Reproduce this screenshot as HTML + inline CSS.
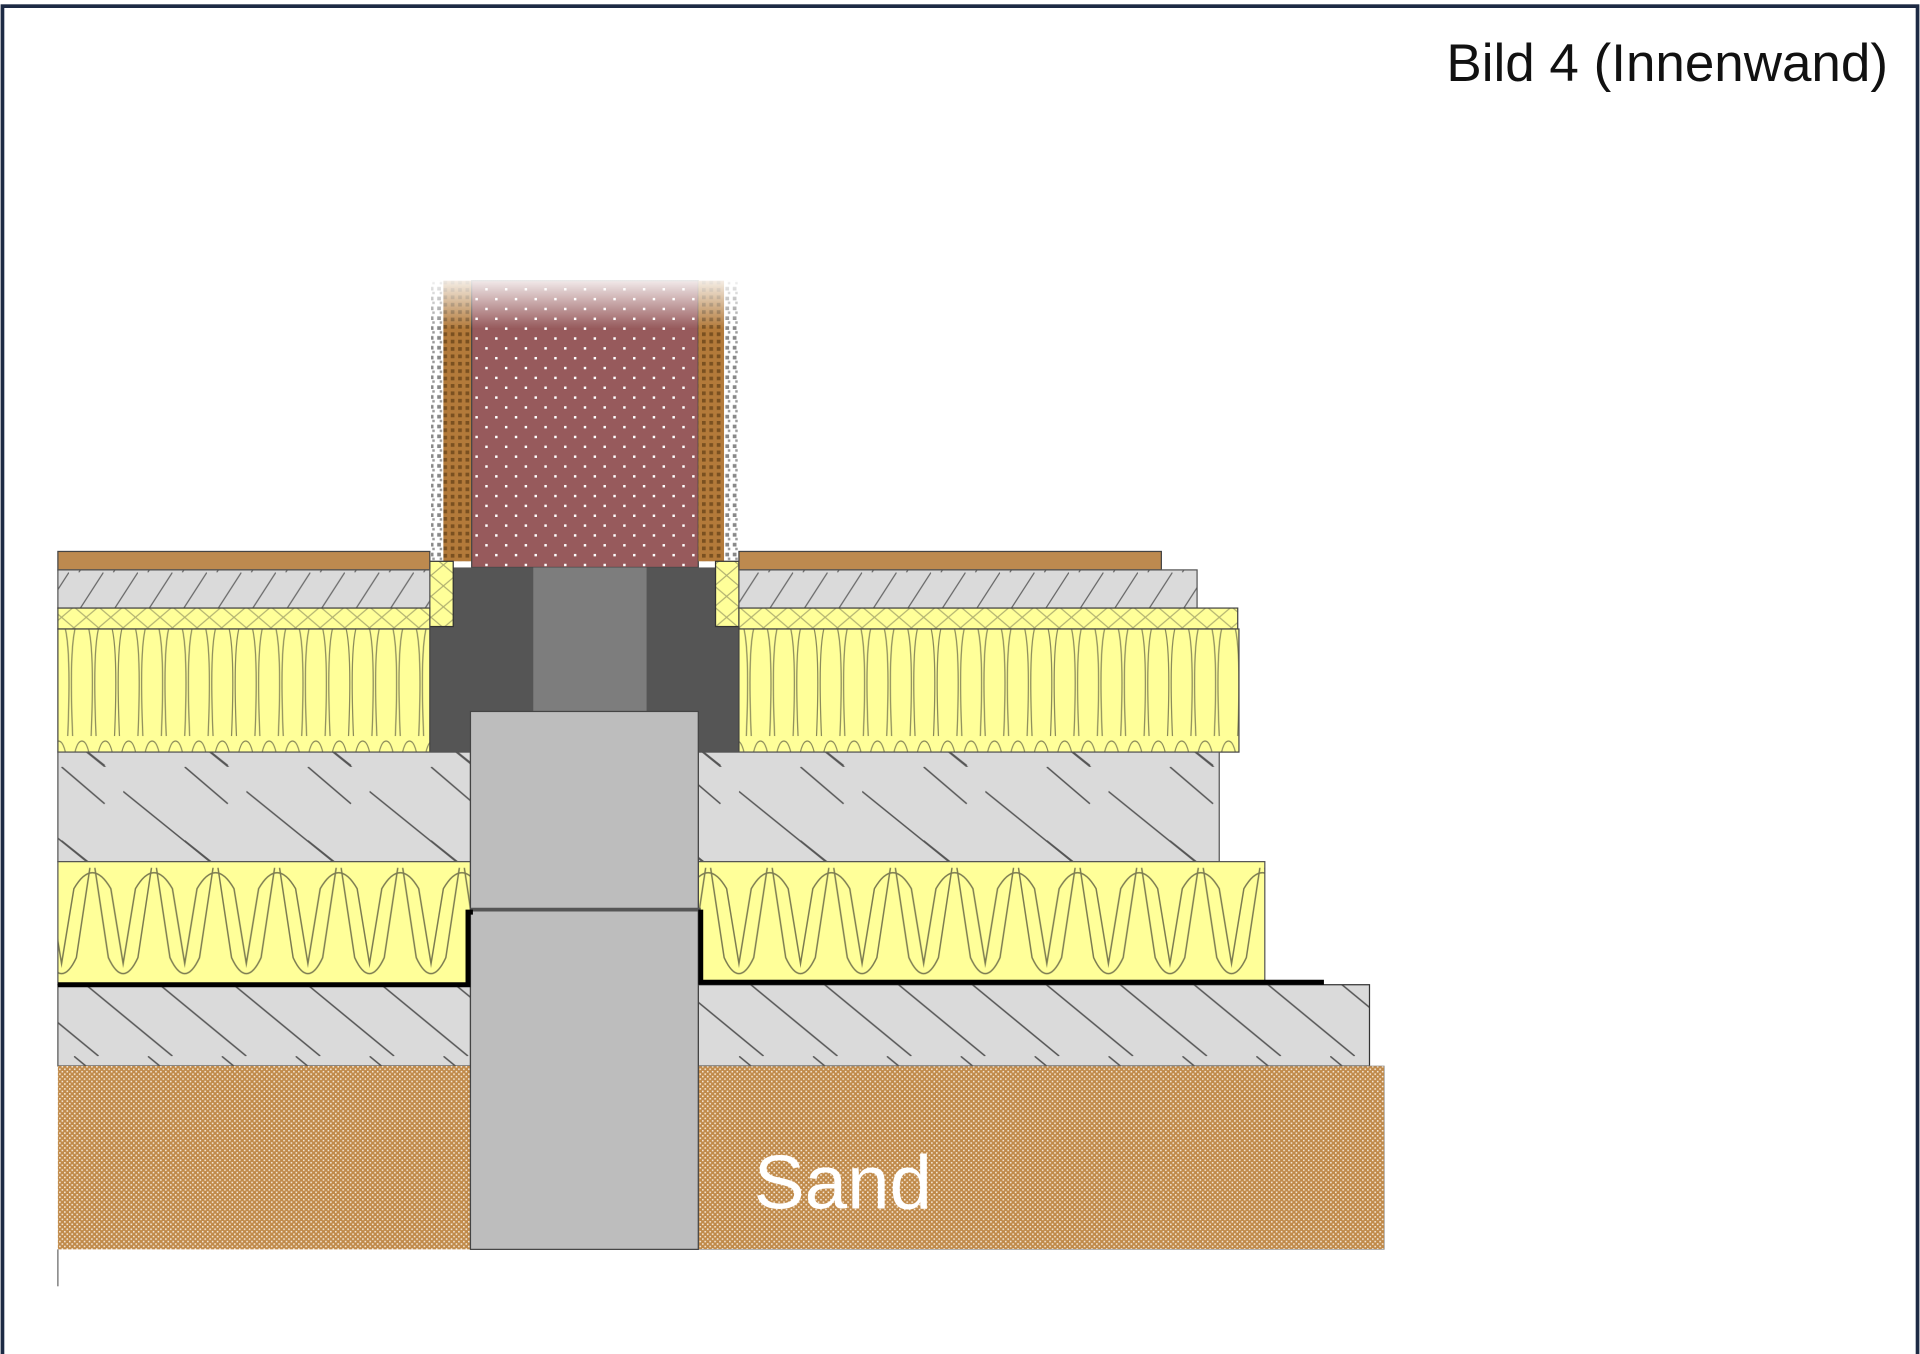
<!DOCTYPE html>
<html><head><meta charset="utf-8"><style>
html,body{margin:0;padding:0;background:#fff;}
svg{display:block;}
</style></head><body>
<svg width="1920" height="1354" viewBox="0 0 1559 1100" preserveAspectRatio="none" xmlns="http://www.w3.org/2000/svg">
<defs>
<pattern id="sand" width="4" height="4" patternUnits="userSpaceOnUse">
<rect width="4" height="4" fill="#c08a4a"/><rect x="0" y="0" width="1.3" height="1.3" fill="#f4e6d4"/><rect x="2" y="2" width="1.3" height="1.3" fill="#f4e6d4"/>
</pattern>
<pattern id="brick" width="16" height="16" patternUnits="userSpaceOnUse">
<rect width="16" height="16" fill="#975a5c"/><rect x="2" y="2" width="2" height="2" fill="#fff"/><rect x="10" y="10" width="2" height="2" fill="#fff"/>
</pattern>
<pattern id="wood" width="6" height="6" patternUnits="userSpaceOnUse">
<rect width="6" height="6" fill="#b37a3a"/><rect x="0" y="0" width="3" height="3" fill="#7a5020"/>
</pattern>
<pattern id="plaster" width="6" height="8" patternUnits="userSpaceOnUse">
<rect width="6" height="8" fill="#fff"/><rect x="1" y="1" width="3" height="3" fill="#888"/><rect x="3" y="5" width="2" height="2" fill="#999"/>
</pattern>
<pattern id="hatchS" width="28" height="31" patternUnits="userSpaceOnUse">
<rect width="28" height="31" fill="#dadada"/><line x1="28" y1="0" x2="8" y2="31" stroke="#666" stroke-width="1"/>
</pattern>
<pattern id="hatchC" width="100" height="89" patternUnits="userSpaceOnUse">
<rect width="100" height="89" fill="#dadada"/>
<line x1="0" y1="20" x2="110" y2="109" stroke="#555" stroke-width="1.2"/>
<line x1="50" y1="0" x2="85" y2="30" stroke="#555" stroke-width="1.2"/>
<line x1="50" y1="60" x2="85" y2="88" stroke="#555" stroke-width="1.2"/>
<line x1="-100" y1="20" x2="10" y2="109" stroke="#555" stroke-width="1.2"/>
</pattern>
<pattern id="hatchL" width="60" height="66" patternUnits="userSpaceOnUse">
<rect width="60" height="66" fill="#dadada"/>
<line x1="0" y1="0" x2="80" y2="66" stroke="#555" stroke-width="1.2"/>
<line x1="-60" y1="0" x2="20" y2="66" stroke="#555" stroke-width="1.2"/>
</pattern>
<pattern id="ins1" width="19" height="100" patternUnits="userSpaceOnUse">
<rect width="19" height="100" fill="#ffff99"/>
<path d="M2 98 Q-2 2 9.5 2 Q21 2 17 98" fill="none" stroke="#8a8a5a" stroke-width="1"/>
</pattern>
<pattern id="ins2" width="50" height="100" patternUnits="userSpaceOnUse" patternTransform="translate(0,700)">
<rect width="50" height="100" fill="#ffff99"/>
<path d="M-2 95 L10 22 Q25 -4 40 22 L52 95" fill="none" stroke="#7a7a50" stroke-width="1.2"/>
<path d="M27 5 L38 78 Q50 104 62 78 L73 5" fill="none" stroke="#7a7a50" stroke-width="1.2"/>
<path d="M-23 5 L-12 78 Q0 104 12 78 L23 5" fill="none" stroke="#7a7a50" stroke-width="1.2"/>
</pattern>
<pattern id="insX" width="20" height="17" patternUnits="userSpaceOnUse">
<rect width="20" height="17" fill="#ffff99"/><path d="M0 0 L20 17 M20 0 L0 17" stroke="#b0b070" stroke-width="1"/>
</pattern>
<linearGradient id="fade" x1="0" y1="0" x2="0" y2="1">
<stop offset="0" stop-color="#fff" stop-opacity="1"/><stop offset="1" stop-color="#fff" stop-opacity="0"/>
</linearGradient>
</defs>
<rect x="2" y="5" width="1555" height="1097" fill="#fff" stroke="#1d2a44" stroke-width="3"/>
<text x="1533" y="66" text-anchor="end" font-family="Liberation Sans, sans-serif" font-size="43" fill="#111">Bild 4 (Innenwand)</text>

<rect x="350" y="228" width="10" height="228" fill="url(#plaster)"/>
<rect x="360" y="228" width="23" height="228" fill="url(#wood)"/>
<rect x="383" y="228" width="184" height="233" fill="url(#brick)" stroke="#444" stroke-width="1"/>
<rect x="567" y="228" width="21" height="228" fill="url(#wood)"/>
<rect x="588" y="228" width="12" height="228" fill="url(#plaster)"/>
<rect x="345" y="222" width="260" height="45" fill="url(#fade)"/>

<rect x="349" y="461" width="251" height="150" fill="#555"/>
<rect x="433" y="461" width="92" height="117" fill="#7d7d7d"/>
<rect x="349" y="456" width="19" height="53" fill="url(#insX)" stroke="#333"/>
<rect x="581" y="456" width="19" height="53" fill="url(#insX)" stroke="#333"/>

<rect x="47" y="448" width="302" height="15" fill="#bd8a4f" stroke="#444"/>
<rect x="47" y="463" width="302" height="31" fill="url(#hatchS)" stroke="#555"/>
<rect x="47" y="494" width="302" height="17" fill="url(#insX)" stroke="#444"/>
<rect x="47" y="511" width="302" height="100" fill="url(#ins1)" stroke="#444"/>
<rect x="600" y="448" width="343" height="15" fill="#bd8a4f" stroke="#444"/>
<rect x="600" y="463" width="372" height="31" fill="url(#hatchS)" stroke="#555"/>
<rect x="600" y="494" width="405" height="17" fill="url(#insX)" stroke="#444"/>
<rect x="600" y="511" width="406" height="100" fill="url(#ins1)" stroke="#444"/>

<rect x="47" y="611" width="335" height="89" fill="url(#hatchC)" stroke="#555"/>
<rect x="567" y="611" width="423" height="89" fill="url(#hatchC)" stroke="#555"/>
<rect x="47" y="700" width="335" height="100" fill="url(#ins2)" stroke="#555"/>
<rect x="567" y="700" width="460" height="98" fill="url(#ins2)" stroke="#555"/>
<rect x="47" y="800" width="335" height="66" fill="url(#hatchL)" stroke="#555"/>
<rect x="567" y="800" width="545" height="66" fill="url(#hatchL)" stroke="#333"/>
<rect x="47" y="866" width="335" height="149" fill="url(#sand)"/>
<rect x="567" y="866" width="557" height="149" fill="url(#sand)" stroke="#888" stroke-width="0.5"/>
<text x="612" y="982" font-family="Liberation Sans, sans-serif" font-size="62" fill="#fff">Sand</text>

<rect x="382" y="578" width="185" height="437" fill="#bdbdbd" stroke="#444"/>
<line x1="382" y1="739" x2="569" y2="739" stroke="#555" stroke-width="3"/>

<polyline points="47,800 380,800 380,741 384,741" fill="none" stroke="#000" stroke-width="4"/>
<polyline points="567,741 569,741 569,798 1075,798" fill="none" stroke="#000" stroke-width="4"/>
<line x1="47" y1="1015" x2="47" y2="1045" stroke="#666" stroke-width="1"/>
</svg>
</body></html>
